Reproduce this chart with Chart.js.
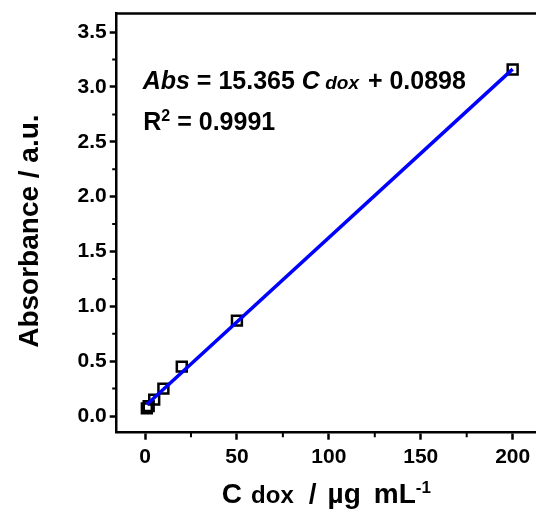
<!DOCTYPE html>
<html>
<head>
<meta charset="utf-8">
<script src="https://cdn.jsdelivr.net/npm/chart.js@4.4.0/dist/chart.umd.min.js"></script>
<style>
  html, body { margin: 0; padding: 0; background: #fff; overflow: hidden; }
  canvas { display: block; }
</style>
</head>
<body>
<canvas id="calib" width="536" height="516"></canvas>
<script>
// --- Data ---
const concX = [1, 2, 5, 10, 20, 50, 200];
const absY = [0.07, 0.09, 0.15, 0.25, 0.45, 0.87, 3.16];
// linear fit endpoints (Abs = 15.365 C + 0.0898)
const fitX = [1, 200];
const fitY = [0.105, 3.163];

const xTicks = [0, 50, 100, 150, 200];
const xMinorTicks = [25, 75, 125, 175];
const yTicks = [0, 0.5, 1, 1.5, 2, 2.5, 3, 3.5];
const yMinorTicks = [0.25, 0.75, 1.25, 1.75, 2.25, 2.75, 3.25];

const FAMILY = "'Liberation Sans', Arial, sans-serif";

// draw text pieces with different fonts on one baseline
function drawRuns(ctx, runs, x, baseline, center) {
    let total = 0;
    runs.forEach(r => { ctx.font = r.font; total += (r.gap || 0) + ctx.measureText(r.text).width; });
    let cx = center ? x - total / 2 : x;
    ctx.textAlign = 'left';
    ctx.textBaseline = 'alphabetic';
    runs.forEach(r => {
        ctx.font = r.font;
        cx += r.gap || 0;
        ctx.fillText(r.text, cx, baseline + (r.dy || 0));
        cx += ctx.measureText(r.text).width;
    });
}

const frameAndText = {
    id: 'frameAndText',
    afterDraw(chart) {
        const { ctx, chartArea: a, scales: { x, y } } = chart;
        ctx.save();
        ctx.strokeStyle = '#000';
        ctx.fillStyle = '#000';

        // top frame line
        ctx.lineWidth = 2.5;
        ctx.beginPath();
        ctx.moveTo(a.left - 1.25, a.top);
        ctx.lineTo(a.right, a.top);
        ctx.stroke();

        // minor ticks
        ctx.lineWidth = 2;
        ctx.beginPath();
        xMinorTicks.forEach(v => {
            const px = x.getPixelForValue(v);
            ctx.moveTo(px, a.bottom);
            ctx.lineTo(px, a.bottom + 4.5);
        });
        yMinorTicks.forEach(v => {
            const py = y.getPixelForValue(v);
            ctx.moveTo(a.left, py);
            ctx.lineTo(a.left - 4.5, py);
        });
        ctx.stroke();

        // equation
        const big = `bold 25px ${FAMILY}`;
        const bigIt = `italic bold 25px ${FAMILY}`;
        const smallIt = `italic bold 19px ${FAMILY}`;
        drawRuns(ctx, [
            { text: 'Abs', font: bigIt },
            { text: ' = 15.365 ', font: big },
            { text: 'C', font: bigIt },
            { text: ' dox', font: smallIt },
            { text: ' + 0.0898', font: big, gap: 2 }
        ], 142.7, 89.3, false);

        drawRuns(ctx, [
            { text: 'R', font: big },
            { text: '2', font: `bold 16px ${FAMILY}`, dy: -9 },
            { text: ' = 0.9991', font: big }
        ], 143.3, 130, false);

        // x axis title
        const xt = `bold 28px ${FAMILY}`;
        drawRuns(ctx, [
            { text: 'C', font: xt },
            { text: 'dox', font: `bold 24px ${FAMILY}`, gap: 9 },
            { text: '/', font: xt, gap: 15 },
            { text: '\u00b5g', font: xt, gap: 11 },
            { text: 'mL', font: xt, gap: 13 },
            { text: '-1', font: `bold 17px ${FAMILY}`, dy: -10 }
        ], (a.left + a.right) / 2, 503, true);

        // y axis title
        ctx.translate(38, (a.top + a.bottom) / 2 + 8);
        ctx.rotate(-Math.PI / 2);
        drawRuns(ctx, [
            { text: 'Absorbance / a.u.', font: `bold 28px ${FAMILY}` }
        ], 0, 0, true);

        ctx.restore();
    }
};

const tickFont = { family: FAMILY, size: 21, weight: 'bold' };

new Chart(document.getElementById('calib'), {
    type: 'scatter',
    data: {
        datasets: [
            {
                label: 'fit',
                data: fitX.map((v, i) => ({ x: v, y: fitY[i] })),
                showLine: true,
                borderColor: '#0000ff',
                borderWidth: 3.5,
                pointRadius: 0,
                order: 0
            },
            {
                label: 'data',
                data: concX.map((v, i) => ({ x: v, y: absY[i] })),
                pointStyle: 'rect',
                pointRadius: 7,
                pointBorderColor: '#000',
                pointBackgroundColor: 'rgba(0,0,0,0)',
                pointBorderWidth: 2.5,
                order: 1
            }
        ]
    },
    options: {
        responsive: false,
        animation: false,
        devicePixelRatio: 1,
        layout: { autoPadding: false, padding: { top: 13.5, right: 0, left: 0, bottom: 0 } },
        plugins: { legend: { display: false }, tooltip: { enabled: false } },
        scales: {
            x: {
                type: 'linear',
                min: -15.4,
                max: 212.7,
                afterBuildTicks: s => { s.ticks = xTicks.map(v => ({ value: v })); },
                afterFit: s => { s.height = 83.3; s.paddingLeft = 0; s.paddingRight = 0; },
                grid: { drawOnChartArea: false, tickLength: 7, tickWidth: 2.5, tickColor: '#000' },
                border: { color: '#000', width: 2.5 },
                ticks: { color: '#000', font: tickFont, padding: 5, maxRotation: 0, autoSkip: false,
                         callback: v => String(v) }
            },
            y: {
                type: 'linear',
                min: -0.152,
                max: 3.67,
                afterBuildTicks: s => { s.ticks = yTicks.map(v => ({ value: v })); },
                afterFit: s => { s.width = 116.7; s.paddingTop = 0; s.paddingBottom = 0; },
                grid: { drawOnChartArea: false, tickLength: 7, tickWidth: 2.5, tickColor: '#000' },
                border: { color: '#000', width: 2.5 },
                ticks: { color: '#000', font: tickFont, padding: 3, autoSkip: false,
                         callback: v => Number(v).toFixed(1) }
            }
        }
    },
    plugins: [frameAndText]
});
</script>
</body>
</html>
